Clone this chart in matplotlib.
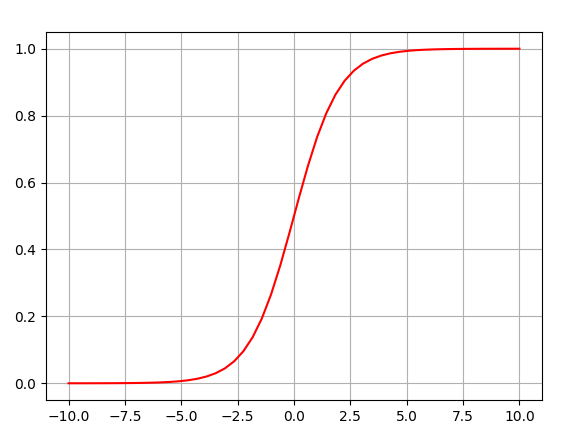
import matplotlib
matplotlib.use('Agg')
import matplotlib.pyplot as plt

# sample points (50 evenly spaced x values)
x_vals = [-10.0, -9.592, -9.184, -8.776, -8.367, -7.959, -7.551, -7.143, -6.735, -6.327,
          -5.918, -5.510, -5.102, -4.694, -4.286, -3.878, -3.469, -3.061, -2.653, -2.245,
          -1.837, -1.429, -1.020, -0.612, -0.204, 0.204, 0.612, 1.020, 1.429, 1.837,
          2.245, 2.653, 3.061, 3.469, 3.878, 4.286, 4.694, 5.102, 5.510, 5.918,
          6.327, 6.735, 7.143, 7.551, 7.959, 8.367, 8.776, 9.184, 9.592, 10.0]
y_vals = [0.00005, 0.00007, 0.00010, 0.00015, 0.00023, 0.00035, 0.00053, 0.00079, 0.00119, 0.00178,
          0.00268, 0.00403, 0.00604, 0.00906, 0.0136, 0.0203, 0.0302, 0.0447, 0.0658, 0.0958,
          0.1374, 0.1933, 0.2650, 0.3516, 0.4492, 0.5508, 0.6484, 0.7350, 0.8067, 0.8626,
          0.9042, 0.9342, 0.9553, 0.9698, 0.9797, 0.9864, 0.9909, 0.9940, 0.9960, 0.9973,
          0.9982, 0.9988, 0.99921, 0.99947, 0.99965, 0.99977, 0.99985, 0.99990, 0.99993, 0.99995]

fig = plt.figure(figsize=(5.72, 4.43), dpi=100)
ax = fig.add_axes([46 / 572, 43 / 443, 496 / 572, 368 / 443])
ax.plot(x_vals, y_vals, color='red')
ax.grid(True)

fig.savefig('out.png', dpi=100)
